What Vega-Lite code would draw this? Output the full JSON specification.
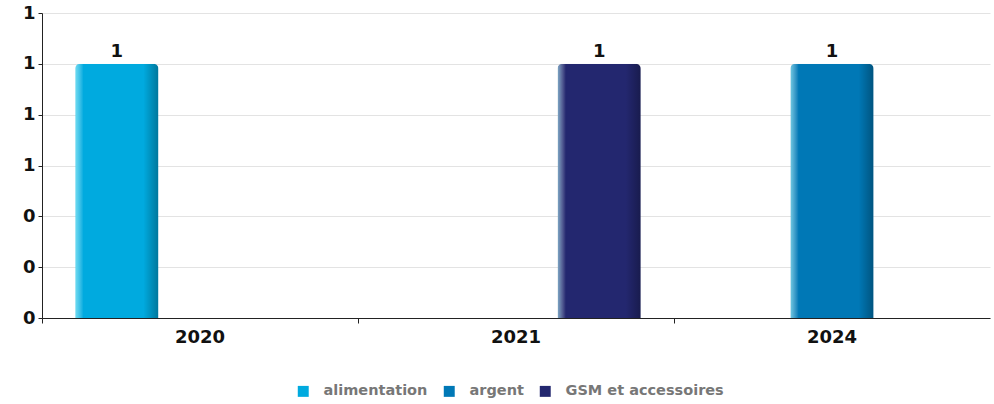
{
  "$schema": "https://vega.github.io/schema/vega-lite/v6.json",
  "autosize": {"type": "none"},
  "width": 948,
  "height": 305,
  "padding": {"left": 42, "top": 13, "right": 4, "bottom": 86},
  "background": "white",
  "data": {
    "values": [
      {"annee": "2020", "categorie": "alimentation", "valeur": 1},
      {"annee": "2021", "categorie": "GSM et accessoires", "valeur": 1},
      {"annee": "2024", "categorie": "argent", "valeur": 1}
    ]
  },
  "encoding": {
    "x": {
      "field": "annee", "type": "nominal", "title": null,
      "scale": {"domain": ["2020", "2021", "2024"], "paddingInner": 0, "paddingOuter": 0},
      "axis": {
        "labelAngle": 0, "bandPosition": 0, "labelFont": "DejaVu Sans", "labelFontWeight": "bold",
        "labelFontSize": 18, "labelColor": "#111", "labelPadding": 5, "domainColor": "#222",
        "tickColor": "#222", "tickSize": 5, "grid": false
      }
    },
    "xOffset": {
      "field": "categorie", "type": "nominal",
      "scale": {"domain": ["alimentation", "argent", "GSM et accessoires"], "paddingOuter": 0.4, "paddingInner": 0}
    },
    "y": {
      "field": "valeur", "type": "quantitative", "title": null,
      "scale": {"domain": [0, 1.2], "nice": false},
      "axis": {
        "values": [0, 0.2, 0.4, 0.6, 0.8, 1.0, 1.2], "format": ".0f",
        "labelFont": "DejaVu Sans", "labelFontWeight": "bold", "labelFontSize": 18, "labelColor": "#111",
        "domainColor": "#222", "tickColor": "#222", "tickSize": 4, "labelPadding": 3,
        "gridColor": "#e3e3e3", "gridWidth": 1
      }
    }
  },
  "layer": [
    {
      "mark": {"type": "bar", "cornerRadiusTopLeft": 5, "cornerRadiusTopRight": 5},
      "encoding": {
        "color": {
          "field": "categorie", "type": "nominal",
          "scale": {"domain": ["alimentation", "argent", "GSM et accessoires"], "range": ["#00aadf", "#0078b6", "#23276f"]},
          "legend": {
            "title": null, "orient": "none", "direction": "horizontal", "legendX": 254, "legendY": 371,
            "symbolType": "square", "symbolSize": 120, "symbolStrokeWidth": 0, "labelFont": "DejaVu Sans",
            "labelFontWeight": "bold", "labelFontSize": 14.5, "labelColor": "#777", "columnPadding": 14, "labelOffset": 13
          }
        }
      }
    },
    {
      "mark": {
        "type": "bar", "cornerRadiusTopLeft": 5, "cornerRadiusTopRight": 5,
        "color": {
          "gradient": "linear", "x1": 0, "y1": 0, "x2": 1, "y2": 0,
          "stops": [
            {"offset": 0, "color": "rgba(180,255,255,0.6)"},
            {"offset": 0.1, "color": "rgba(255,255,255,0)"},
            {"offset": 0.82, "color": "rgba(0,0,0,0)"},
            {"offset": 1, "color": "rgba(0,0,0,0.3)"}
          ]
        }
      }
    },
    {
      "mark": {"type": "text", "dy": -12, "font": "DejaVu Sans", "fontWeight": "bold", "fontSize": 18, "color": "#111"},
      "encoding": {"text": {"field": "valeur", "type": "quantitative", "format": ".0f"}}
    }
  ],
  "config": {"view": {"stroke": null}}
}
